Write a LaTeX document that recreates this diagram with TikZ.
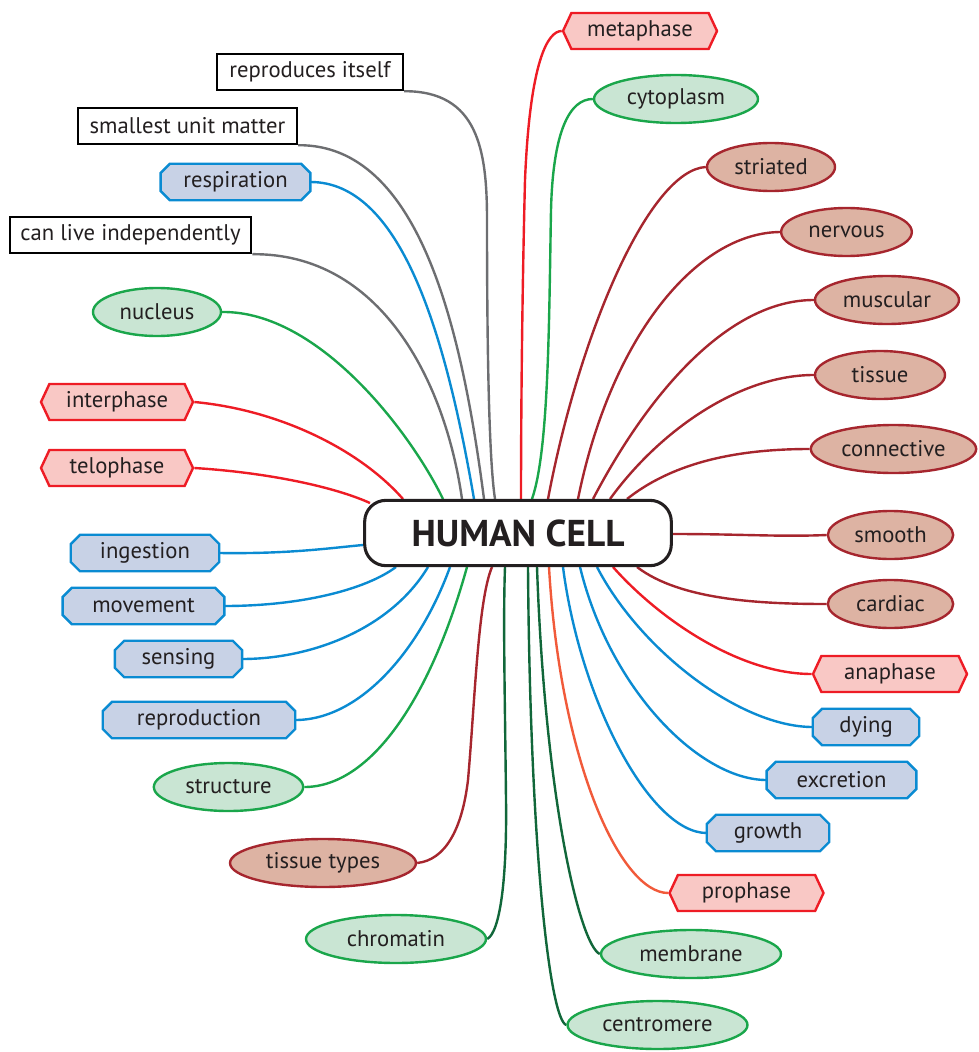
\documentclass[tikz,border=0pt]{standalone}
\usepackage{fontspec}
\setmainfont{PT Sans}
\usetikzlibrary{shapes.symbols,shapes.geometric}

\definecolor{ink}{HTML}{231F20}
\definecolor{graylink}{HTML}{6D6E71}
\definecolor{octfill}{HTML}{C8D2E6}
\definecolor{octline}{HTML}{0A8BD2}
\definecolor{hexfill}{HTML}{F9C8C5}
\definecolor{hexline}{HTML}{EE1C25}
\definecolor{greenfill}{HTML}{C9E5D3}
\definecolor{greenline}{HTML}{1AA64B}
\definecolor{darkgreen}{HTML}{11673A}
\definecolor{brownfill}{HTML}{DDB3A3}
\definecolor{brownline}{HTML}{A6262E}
\definecolor{orangelink}{HTML}{F15A3A}

\pgfdeclarelayer{links}
\pgfdeclarelayer{frames}
\pgfsetlayers{links,frames,main}

\begin{document}
\begin{tikzpicture}[x=0.75pt,y=-0.75pt,
  every node/.style={font=\fontsize{17}{20}\selectfont, text=ink, inner sep=0pt},
  plainbox/.style={rectangle, draw=black, fill=white, line width=1.8pt, minimum height=27pt},
  octbox/.style={rectangle, minimum height=27pt},
  hexbox/.style={signal, signal to=west and east, signal pointer angle=130, draw=hexline, fill=hexfill, line width=1.8pt, minimum height=27pt},
  ovalgreen/.style={ellipse, draw=greenline, fill=greenfill, line width=1.8pt, minimum height=36pt},
  ovalbrown/.style={ellipse, draw=brownline, fill=brownfill, line width=1.8pt, minimum height=36pt},
  hub/.style={rectangle, rounded corners=16pt, draw=ink, fill=white, line width=2.3pt, minimum width=230pt, minimum height=49pt, font=\fontsize{28}{32}\selectfont\bfseries},
  link/.style={line width=1.8pt},
  octframe/.style={draw=octline, fill=octfill, line width=1.8pt},
]
\useasboundingbox (0,0) rectangle (978,1052);

% central topic
\node[hub] (hc) at (518,533) {HUMAN CELL};

% plain statements
\node[plainbox, minimum width=139.5pt] (rep) at (310,72) {reproduces itself};
\node[plainbox, minimum width=164pt] (small) at (187.5,126) {smallest unit matter};
\node[plainbox, minimum width=181pt] (indep) at (130.5,235) {can live independently};

% functions (octagonal frames are added on their own layer below)
\node[octbox, minimum width=112pt] (resp) at (235.5,182) {respiration};
\node[octbox, minimum width=111pt] (inge) at (145,553) {ingestion};
\node[octbox, minimum width=121pt] (move) at (143.5,606) {movement};
\node[octbox, minimum width=95pt] (sens) at (178.5,659) {sensing};
\node[octbox, minimum width=144pt] (repro) at (199,720) {reproduction};
\node[octbox, minimum width=79.5pt] (dying) at (866,727) {dying};
\node[octbox, minimum width=112pt] (excr) at (841.5,780) {excretion};
\node[octbox, minimum width=91.5pt] (grow) at (768,833) {growth};

% phases
\node[hexbox, minimum width=115.5pt] (meta) at (640,31) {metaphase};
\node[hexbox, minimum width=114pt] (inter) at (117,402) {interphase};
\node[hexbox, minimum width=114pt] (telo) at (117,468) {telophase};
\node[hexbox, minimum width=115.5pt] (ana) at (890,674) {anaphase};
\node[hexbox, minimum width=115.5pt] (pro) at (746.5,893) {prophase};

% parts
\node[ovalgreen, minimum width=123pt] (cyto) at (676,99) {cytoplasm};
\node[ovalgreen, minimum width=96pt] (nucl) at (157,312) {nucleus};
\node[ovalgreen, minimum width=112pt] (struc) at (228.5,787) {structure};
\node[ovalgreen, minimum width=135pt] (chrom) at (396,939) {chromatin};
\node[ovalgreen, minimum width=135pt] (memb) at (691,954) {membrane};
\node[ovalgreen, minimum width=135pt] (centro) at (657.5,1025) {centromere};

% tissues
\node[ovalbrown, minimum width=96pt] (stri) at (771,167) {striated};
\node[ovalbrown, minimum width=98pt] (nerv) at (846.5,232) {nervous};
\node[ovalbrown, minimum width=108pt] (musc) at (887,300) {muscular};
\node[ovalbrown, minimum width=97.5pt] (tiss) at (880,375) {tissue};
\node[ovalbrown, minimum width=124pt] (conn) at (893.5,449) {connective};
\node[ovalbrown, minimum width=94pt] (smoo) at (890.5,535) {smooth};
\node[ovalbrown, minimum width=94pt] (card) at (890.5,604) {cardiac};
\node[ovalbrown, minimum width=139.5pt] (ttyp) at (323,863) {tissue types};

% octagonal frames of the function nodes
\begin{pgfonlayer}{frames}
\foreach \n in {resp,inge,move,sens,repro,dying,excr,grow} {
  \draw[octframe]
    ([xshift=7pt]\n.north west) -- ([xshift=-7pt]\n.north east)
    -- ([yshift=-7pt]\n.north east) -- ([yshift=7pt]\n.south east)
    -- ([xshift=-7pt]\n.south east) -- ([xshift=7pt]\n.south west)
    -- ([yshift=7pt]\n.south west) -- ([yshift=-7pt]\n.north west) -- cycle;
}
\end{pgfonlayer}

% docking points on the border of the central topic
\coordinate (d-rep) at (495,499);
\coordinate (d-small) at (484,499);
\coordinate (d-resp) at (474,499);
\coordinate (d-indep) at (462,499);
\coordinate (d-nucl) at (443,499);
\coordinate (d-inter) at (403,499);
\coordinate (d-telo) at (370,503);
\coordinate (d-inge) at (363,545);
\coordinate (d-move) at (396,567);
\coordinate (d-sens) at (428,567);
\coordinate (d-repro) at (450,567);
\coordinate (d-struc) at (467,567);
\coordinate (d-ttyp) at (492,567);
\coordinate (d-chrom) at (505,567);
\coordinate (d-centro) at (528,567);
\coordinate (d-memb) at (537,567);
\coordinate (d-pro) at (549,567);
\coordinate (d-grow) at (563,567);
\coordinate (d-excr) at (580,567);
\coordinate (d-dying) at (597,567);
\coordinate (d-ana) at (613,567);
\coordinate (d-card) at (637,567);
\coordinate (d-smoo) at (673,534);
\coordinate (d-conn) at (627,499);
\coordinate (d-tiss) at (610,499);
\coordinate (d-musc) at (593,499);
\coordinate (d-nerv) at (578,499);
\coordinate (d-stri) at (548,499);
\coordinate (d-cyto) at (532,499);
\coordinate (d-meta) at (521,499);

\begin{pgfonlayer}{links}
% statements
\draw[link, graylink] (rep.south east) .. controls (478,91) and (487,150) .. (487,220)
  .. controls (487,350) and (489,460) .. (d-rep);
\draw[link, graylink] (small.south east) .. controls (420,144) and (462,330) .. (d-small);
\draw[link, graylink] (indep.south east) .. controls (380,253) and (445,380) .. (d-indep);
% functions
\draw[link, octline] (resp.east) .. controls (400,182) and (445,330) .. (d-resp);
\draw[link, octline] (inge.east) .. controls (290,554) and (330,548) .. (d-inge);
\draw[link, octline] (move.east) .. controls (300,606) and (365,590) .. (d-move);
\draw[link, octline] (sens.east) .. controls (310,659) and (390,630) .. (d-sens);
\draw[link, octline] (repro.east) .. controls (360,720) and (420,650) .. (d-repro);
\draw[link, octline] (dying.west) .. controls (740,727) and (640,650) .. (d-dying);
\draw[link, octline] (excr.west) .. controls (700,780) and (610,690) .. (d-excr);
\draw[link, octline] (grow.west) .. controls (650,833) and (580,700) .. (d-grow);
% phases
\draw[link, hexline] (meta.west) .. controls (548,31) and (530,60) .. (525,180)
  .. controls (522,300) and (521,420) .. (d-meta);
\draw[link, hexline] (inter.east) .. controls (280,410) and (360,450) .. (d-inter);
\draw[link, hexline] (telo.east) .. controls (260,472) and (330,485) .. (d-telo);
\draw[link, hexline] (ana.west) .. controls (740,674) and (660,620) .. (d-ana);
\draw[link, orangelink] (pro.west) .. controls (620,893) and (560,760) .. (d-pro);
% parts
\draw[link, greenline] (cyto.west) .. controls (570,99) and (553,130) .. (551,210)
  .. controls (549,320) and (549,450) .. (d-cyto);
\draw[link, greenline] (nucl.east) .. controls (320,311) and (412,435) .. (d-nucl);
\draw[link, greenline] (struc.east) .. controls (370,787) and (430,700) .. (d-struc);
\draw[link, darkgreen] (chrom.east) .. controls (500,932) and (507,880) .. (506,800)
  .. controls (505,700) and (503,620) .. (d-chrom);
\draw[link, darkgreen] (memb.west) .. controls (580,945) and (545,800) .. (d-memb);
\draw[link, darkgreen] (centro.west) .. controls (550,1020) and (530,850) .. (d-centro);
% tissues
\draw[link, brownline] (stri.west) .. controls (650,170) and (580,330) .. (d-stri);
\draw[link, brownline] (nerv.west) .. controls (695,233) and (610,340) .. (d-nerv);
\draw[link, brownline] (musc.west) .. controls (730,300) and (650,390) .. (d-musc);
\draw[link, brownline] (tiss.west) .. controls (740,375) and (660,430) .. (d-tiss);
\draw[link, brownline] (conn.west) .. controls (730,449) and (670,465) .. (d-conn);
\draw[link, brownline] (smoo.west) .. controls (780,537) and (740,534) .. (d-smoo);
\draw[link, brownline] (card.west) .. controls (760,604) and (680,600) .. (d-card);
\draw[link, brownline] (ttyp.east) .. controls (445,860) and (462,830) .. (468,780)
  .. controls (475,700) and (478,600) .. (d-ttyp);
\end{pgfonlayer}
\end{tikzpicture}
\end{document}
